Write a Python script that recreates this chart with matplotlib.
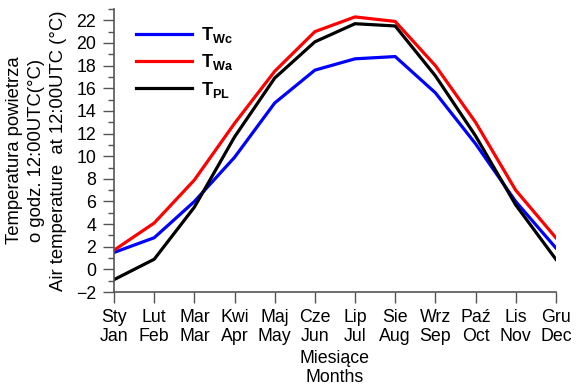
import matplotlib
matplotlib.use('Agg')
import matplotlib.pyplot as plt
from matplotlib.ticker import MultipleLocator

plt.rcParams['font.family'] = ['Liberation Sans', 'DejaVu Sans']
plt.rcParams['mathtext.fontset'] = 'custom'
plt.rcParams['mathtext.rm'] = 'Liberation Sans'
plt.rcParams['mathtext.bf'] = 'Liberation Sans:bold'

months_pl = ['Sty', 'Lut', 'Mar', 'Kwi', 'Maj', 'Cze', 'Lip', 'Sie', 'Wrz', 'Paź', 'Lis', 'Gru']
months_en = ['Jan', 'Feb', 'Mar', 'Apr', 'May', 'Jun', 'Jul', 'Aug', 'Sep', 'Oct', 'Nov', 'Dec']
t_wc = [1.5, 2.8, 6.0, 9.9, 14.7, 17.6, 18.6, 18.8, 15.6, 11.1, 6.0, 1.9]
t_wa = [1.7, 4.1, 7.9, 12.9, 17.5, 21.0, 22.3, 21.9, 18.0, 13.0, 7.0, 2.8]
t_pl = [-0.9, 0.9, 5.5, 11.7, 16.9, 20.1, 21.7, 21.5, 17.1, 11.8, 5.7, 0.9]

fig = plt.figure(figsize=(5.79, 3.91), dpi=100)
ax = fig.add_axes([0.197, 0.253, 0.763, 0.724])
x = list(range(12))
ax.plot(x, t_wc, color='#0000ff', lw=2.3, label=r'$\mathbf{T_{Wc}}$')
ax.plot(x, t_wa, color='#ff0000', lw=2.3, label=r'$\mathbf{T_{Wa}}$')
ax.plot(x, t_pl, color='black', lw=2.3, label=r'$\mathbf{T_{PL}}$')

ax.set_xlim(0, 11)
ax.set_ylim(-2, 23)
ax.set_xticks(x)
ax.set_xticklabels([p + '\n' + e for p, e in zip(months_pl, months_en)], fontsize=12.8, linespacing=1.2)
ax.set_yticks(range(-2, 23, 2))
ax.yaxis.set_minor_locator(MultipleLocator(1))
ax.tick_params(axis='both', which='major', length=8, width=1, color='#555555', labelsize=12.8)
ax.tick_params(axis='x', which='major', pad=4)
ax.tick_params(axis='y', which='major', pad=5)
ax.tick_params(axis='y', which='minor', length=4.5, width=1, color='#555555')
for s in ['top', 'right']:
    ax.spines[s].set_visible(False)
for s in ['left', 'bottom']:
    ax.spines[s].set_color('#555555')
    ax.spines[s].set_linewidth(1.2)

ax.set_xlabel('Miesiące\nMonths', fontsize=12.8, linespacing=1.2, labelpad=3)
ax.set_ylabel('Temperatura powietrza\no godz. 12:00UTC(\u00b0C)\nAir temperature  at 12:00UTC (\u00b0C)',
              fontsize=13.3, linespacing=1.4, labelpad=6)

ax.legend(loc='upper left', bbox_to_anchor=(0.03, 0.975), frameon=False, fontsize=13,
          handlelength=3.1, labelspacing=0.4, borderpad=0, handletextpad=0.5)

fig.savefig('out.png', dpi=100)
